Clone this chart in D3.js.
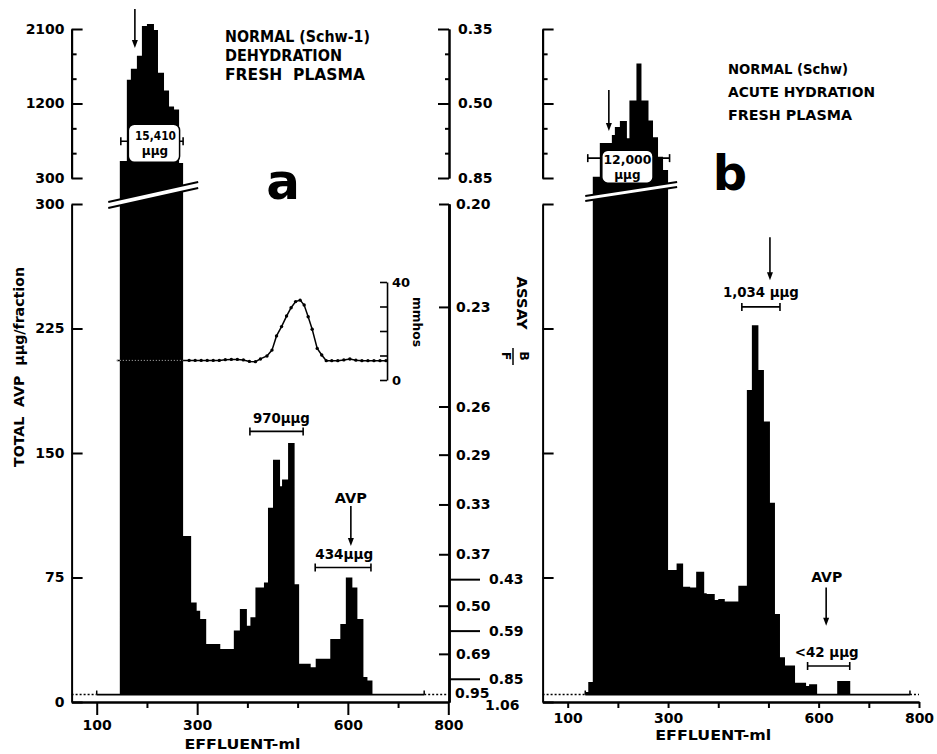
<!DOCTYPE html>
<html>
<head>
<meta charset="utf-8">
<script src="https://cdn.jsdelivr.net/npm/d3@7"></script>
<style>
body{margin:0;background:#fff;}
svg text{font-family:"DejaVu Sans",sans-serif;font-weight:bold;fill:#000;}
</style>
</head>
<body>
<script>
var width=937,height=754;

// fraction edges (ml effluent) and total AVP per fraction (μμg), panel a
var aEdges=[146,160,168,180,190,200,214,222,234,244,254,264,272,288,299,306,318,346,373,385,
	399,406,416,433,441,451,465,469,481,494,503,526,536,565,585,596,609,619,631,639,649];
var aValues=[504,1488,1620,1776,2136,2160,2088,1572,1356,1164,1128,480,100,60,55,50,35,32,43,56,
	46,51,69,72,117,146,130,134,156,71,23,21,26,38,47,75,69,50,15,13];
// panel b
var bEdges=[135,141,150,164,188,194,204,218,223,237,247,261,270,280,290,300,317,330,344,356,
	372,377,393,400,413,440,457,467,480,491,503,513,523,533,553,575,581,597,637,663];
var bValues=[6,12,316,724,820,916,988,780,1236,1684,1236,996,792,556,396,79.5,83.5,69.5,69,78.5,
	65.5,65,61.5,62,60.5,70,188,227,200,169,120,53,27,22,11.6,9.6,10.7,4.5,12.7];
var blank=4.5;

// conductivity (mmhos) inset, panel a
var condMl=[140,152,164,176,188,200,212,224,236,248,260,272,284,296,308,320,332,344,356,368,380,392,404,416,
	426,439,449,458,468,478,487,496,505,513,521,529,539,548,557,568,580,592,604,616,628,640,652,664,676];
var condVal=[8,8,8,8,8,8,8,8,8,8,8,8,8,8,8,8,8,8,8.3,8.4,8.4,8.2,7.6,7.5,
	8.6,9.8,12.2,18,21.8,26.1,29.5,32,32.6,30.6,25.8,20.7,12.9,10.2,7.9,7.9,7.9,8.2,8.6,8.1,7.9,7.9,7.9,7.9,7.9];

var xMajor=[100,300,600,800], xMinor=[200,400,500,700];
var lowTicks=[0,75,150,225,300];
var upMajor=[300,1200,2100], upMinor=[600,900,1500,1800];
var condTicks=[0,10,20,30,40];

// assay B/F calibration against total AVP
var assayUp=["0.35","0.50","0.85"], assayUpAt=[2100,1200,300];
var assayLow=["0.20","0.23","0.26","0.29","0.33","0.37","0.43","0.50","0.59","0.69","0.85","0.95","1.06"];
var assayLowAt=[300,238,178,149,119,89,74,58,43,29,14,4.5,0];

var svg=d3.select("body").append("svg").attr("width",width).attr("height",height);

var xa=d3.scaleLinear().domain([50,800]).range([71.6,448.3]);
var xb=d3.scaleLinear().domain([50,800]).range([542.6,919]);
var yLow=d3.scaleLinear().domain([0,300]).range([702,204]);
var yUp=d3.scaleLinear().domain([300,2100]).range([178,29]);
var yC=d3.scaleLinear().domain([0,40]).range([380,282]);
function yv(v){ return v>300 ? yUp(v) : yLow(v); }

function styleAxis(g,fs){
	g.selectAll("path,line").style("stroke-width","2px");
	g.selectAll("text").style("font-size",(fs||14)+"px");
}

function histogram(x,edges,values){
	var pts=edges.map(function(e,i){ return [e, values[Math.min(i,values.length-1)]]; });
	var area=d3.area().curve(d3.curveStepAfter)
		.x(function(d){return x(d[0]);})
		.y0(yLow(blank))
		.y1(function(d){return yv(d[1]);});
	svg.append("path").datum(pts).attr("d",area).attr("fill","#000");
}

function baseline(x,from,to){
	var yb=yLow(blank);
	svg.append("line").attr("x1",x(50)).attr("x2",x(from)).attr("y1",yb).attr("y2",yb)
		.attr("stroke","#000").attr("stroke-width",1.5).attr("stroke-dasharray","2,2");
	svg.append("line").attr("x1",x(to)).attr("x2",x(800)).attr("y1",yb).attr("y2",yb)
		.attr("stroke","#000").attr("stroke-width",1.5).attr("stroke-dasharray","2,2");
	svg.append("line").attr("x1",x(from)).attr("x2",x(to)).attr("y1",yb).attr("y2",yb)
		.attr("stroke","#000").attr("stroke-width",1.8);
	[from,to].forEach(function(m){
		svg.append("line").attr("x1",x(m)).attr("x2",x(m)).attr("y1",yb-4).attr("y2",yb)
			.attr("stroke","#000").attr("stroke-width",1.5);
	});
}

function leftAxes(x,labelled){
	var g=svg.append("g").attr("transform","translate("+x.range()[0]+",0)");
	g.append("g").call(d3.axisLeft(yUp).tickValues(upMajor).tickSize(-11).tickSizeOuter(0).tickPadding(7)
		.tickFormat(labelled?d3.format("d"):"")).call(styleAxis);
	g.append("g").call(d3.axisLeft(yUp).tickValues(upMinor).tickSize(-5).tickSizeOuter(0).tickFormat("")).call(styleAxis);
	g.append("g").call(d3.axisLeft(yLow).tickValues(lowTicks).tickSize(-11).tickSizeOuter(0).tickPadding(7)
		.tickFormat(labelled?d3.format("d"):"")).call(styleAxis);
}

function bottomAxis(x,major,pad,titleY){
	var g=svg.append("g").attr("transform","translate(0,"+yLow(0)+")");
	g.append("g").call(d3.axisBottom(x).tickValues(xMajor).tickSize(major).tickSizeOuter(0).tickPadding(pad)).call(styleAxis);
	g.append("g").call(d3.axisBottom(x).tickValues(xMinor).tickSize(6).tickSizeOuter(0).tickFormat("")).call(styleAxis);
	svg.append("text").attr("x",x(400)-5).attr("y",titleY).attr("text-anchor","middle")
		.attr("font-size",14).attr("textLength",116).attr("lengthAdjust","spacingAndGlyphs").text("EFFLUENT-ml");
}

function breakBand(x,m0,m1,yl,yr,th){
	var x0=x(m0),x1=x(m1);
	svg.append("path").attr("d","M"+x0+","+yl+"L"+x1+","+yr+"L"+x1+","+(yr+th)+"L"+x0+","+(yl+th)+"Z")
		.attr("fill","#fff");
	[0,th].forEach(function(o){
		svg.append("line").attr("x1",x0).attr("y1",yl+o).attr("x2",x1).attr("y2",yr+o)
			.attr("stroke","#000").attr("stroke-width",1.8);
	});
}

function bracket(x,m0,m1,yy){
	var g=svg.append("g").attr("stroke","#000").attr("stroke-width",1.6);
	g.append("line").attr("x1",x(m0)).attr("x2",x(m1)).attr("y1",yy).attr("y2",yy);
	[m0,m1].forEach(function(m){
		g.append("line").attr("x1",x(m)).attr("x2",x(m)).attr("y1",yy-4).attr("y2",yy+4);
	});
}

function arrow(x,m,y0,y1){
	var xx=x(m);
	svg.append("line").attr("x1",xx).attr("x2",xx).attr("y1",y0).attr("y2",y1-6)
		.attr("stroke","#000").attr("stroke-width",1.6);
	svg.append("path").attr("d","M"+(xx-3)+","+(y1-8)+"L"+(xx+3)+","+(y1-8)+"L"+xx+","+y1+"Z").attr("fill","#000");
}

function label(x,y,txt,fs,len,anchor){
	var t=svg.append("text").attr("x",x).attr("y",y).attr("font-size",fs)
		.attr("text-anchor",anchor||"start").text(txt);
	if(len) t.attr("textLength",len).attr("lengthAdjust","spacingAndGlyphs");
	return t;
}

// ---------- panel a ----------
histogram(xa,aEdges,aValues);
baseline(xa,100,752);
breakBand(xa,123,302,yLow(300)-2,yUp(300)+4,6);
leftAxes(xa,true);
bottomAxis(xa,13,5,749);

// assay axis
var ra=svg.append("g").attr("transform","translate("+(xa(800)+0.7)+",0)");
ra.append("g").call(d3.axisRight(yUp).tickValues(assayUpAt).tickSize(-11).tickSizeOuter(0).tickPadding(9)
	.tickFormat(function(d){return assayUp[assayUpAt.indexOf(d)];})).call(styleAxis);
ra.append("g").call(d3.axisRight(yUp).tickValues(upMinor).tickSize(-4).tickSizeOuter(0).tickFormat("")).call(styleAxis);
var outSide=["0.43","0.59","0.85"];
function assayFmt(d){ return assayLow[assayLowAt.indexOf(d)]; }
var inVals=assayLowAt.filter(function(d,i){ return outSide.indexOf(assayLow[i])<0 && i<11; });
var outVals=assayLowAt.filter(function(d,i){ return outSide.indexOf(assayLow[i])>=0; });
ra.append("g").call(d3.axisRight(yLow).tickValues(inVals).tickSize(-10).tickSizeOuter(0).tickPadding(7).tickFormat(assayFmt)).call(styleAxis);
ra.append("g").call(d3.axisRight(yLow).tickValues(outVals).tickSize(31).tickSizeOuter(0).tickPadding(9).tickFormat(assayFmt)).call(styleAxis);
ra.append("g").call(d3.axisRight(yLow).tickValues([assayLowAt[11]]).tickSize(0).tickSizeOuter(0).tickPadding(6).tickFormat(assayFmt)).call(styleAxis);
ra.append("g").call(d3.axisRight(yLow).tickValues([assayLowAt[12]]).tickSize(0).tickSizeOuter(0).tickPadding(36).tickFormat(assayFmt)).call(styleAxis);
ra.selectAll("text").filter(function(){return this.textContent==="0.95";}).attr("dy","0.2em");
ra.selectAll("text").filter(function(){return this.textContent==="1.06";}).attr("dy","0.5em");

// conductivity inset
var line=d3.line().x(function(d){return xa(d[0]);}).y(function(d){return yC(d[1]);});
var cond=condMl.map(function(m,i){return [m,condVal[i]];});
svg.append("path").datum(cond).attr("d",line).attr("fill","none").attr("stroke","#000").attr("stroke-width",1.5);
svg.append("path").datum(cond.filter(function(d){return d[0]<=272;})).attr("d",line)
	.attr("fill","none").attr("stroke","#bbb").attr("stroke-width",1).attr("stroke-dasharray","1,2");
svg.append("g").selectAll("circle").data(cond.filter(function(d){return d[0]>272;})).enter().append("circle")
	.attr("cx",function(d){return xa(d[0]);}).attr("cy",function(d){return yC(d[1]);}).attr("r",1.7).attr("fill","#000");
svg.append("g").attr("transform","translate("+xa(678)+",0)")
	.call(d3.axisRight(yC).tickValues(condTicks).tickSize(-7).tickSizeOuter(0).tickPadding(5)
		.tickFormat(function(d){return d%40===0?d:"";}))
	.call(function(g){ styleAxis(g,13); g.selectAll("line,path").style("stroke-width","1.6px"); });

// panel a texts
label(225,42,"NORMAL (Schw-1)",15,145);
label(225,61,"DEHYDRATION",15,117);
label(225,80,"FRESH  PLASMA",15,140).attr("xml:space","preserve");
label(283,199,"a",50,null,"middle");
label(0,0,"TOTAL  AVP  μμg/fraction",14,200,"middle").attr("xml:space","preserve")
	.attr("transform","translate(24,367) rotate(-90)");
label(0,0,"ASSAY",14,53,"middle").attr("transform","translate(517,303) rotate(90)");
label(0,0,"B",12,null,"middle").attr("transform","translate(520,356) rotate(90)");
label(0,0,"F",12,null,"middle").attr("transform","translate(502,356) rotate(90)");
svg.append("line").attr("x1",513).attr("x2",513).attr("y1",348).attr("y2",365).attr("stroke","#000").attr("stroke-width",1.5);
label(0,0,"mmhos",13,50,"middle").attr("transform","translate(413,322) rotate(90)");

arrow(xa,176,9,48);
bracket(xa,148,272,yUp(744));
svg.append("rect").attr("x",xa(163)).attr("y",yUp(744)-17).attr("width",xa(265)-xa(163)).attr("height",38)
	.attr("rx",6).attr("fill","#fff").attr("stroke","#000").attr("stroke-width",1.5);
label(xa(217),yUp(744)-1,"15,410",12,41,"middle");
label(xa(216),yUp(744)+14,"μμg",12,null,"middle");

bracket(xa,405,511,yLow(163));
label(xa(405)+3,yLow(163)-8,"970μμg",14,57);
label(xa(606),yLow(120),"AVP",14,32,"middle");
arrow(xa,606,yLow(118),yLow(94));
bracket(xa,535,646,yLow(81));
label(xa(535),yLow(81)-9,"434μμg",14,58);

// ---------- panel b ----------
histogram(xb,bEdges,bValues);
baseline(xb,135,782);
breakBand(xb,135,318,yLow(300)-8,yUp(300)+4,5);
leftAxes(xb,false);
bottomAxis(xb,6,5,740);

label(728,74,"NORMAL (Schw)",14,120);
label(728,97,"ACUTE HYDRATION",14,147);
label(728,120,"FRESH PLASMA",14,124);
label(730,190,"b",48,null,"middle");

arrow(xb,182,90,131);
bracket(xb,140,303,yUp(540));
svg.append("rect").attr("x",xb(168)).attr("y",yUp(540)-8).attr("width",xb(270)-xb(168)).attr("height",33)
	.attr("rx",6).attr("fill","#fff").attr("stroke","#000").attr("stroke-width",1.5);
label(xb(219),yUp(540)+6,"12,000",12,48,"middle");
label(xb(219),yUp(540)+21,"μμg",12,null,"middle");

arrow(xb,503,yLow(280),yLow(254));
label(xb(485),yLow(244),"1,034 μμg",14,76,"middle");
bracket(xb,447,523,yLow(238));

label(xb(616),yLow(72),"AVP",14,31,"middle");
arrow(xb,615,yLow(69),yLow(46));
label(xb(616),yLow(27),"<42 μμg",14,64,"middle");
bracket(xb,578,662,yLow(21.7));
</script>
</body>
</html>
